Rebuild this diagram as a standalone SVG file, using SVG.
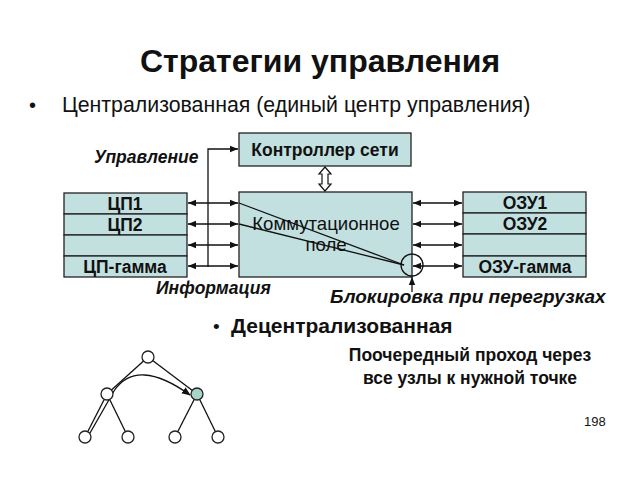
<svg xmlns="http://www.w3.org/2000/svg" width="640" height="480" viewBox="0 0 640 480">
<style>
text{font-family:"Liberation Sans",Arial,sans-serif;fill:#111}
.b{font-weight:bold}
.lb{font-weight:bold;font-size:17.5px}
.it{font-weight:bold;font-style:italic;font-size:17.5px}
.box{fill:#c3e0e0;stroke:#222;stroke-width:1.3}
.ln{stroke:#111;stroke-width:1.3;fill:none}
.nd{fill:#fff;stroke:#222;stroke-width:1.3}
</style>
<defs>
<marker id="ah" viewBox="0 0 10 10" refX="10" refY="5" markerWidth="8" markerHeight="8" orient="auto-start-reverse" markerUnits="userSpaceOnUse">
<path d="M0,1 L10,5 L0,9 z" fill="#111"/>
</marker>
<marker id="ah2" viewBox="0 0 10 10" refX="9" refY="5" markerWidth="9" markerHeight="9" orient="auto" markerUnits="userSpaceOnUse">
<path d="M0,1 L10,5 L0,9 z" fill="#111"/>
</marker>
</defs>
<rect width="640" height="480" fill="#fff"/>
<text x="320" y="72" text-anchor="middle" class="b" font-size="32">Стратегии управления</text>
<text x="29" y="112" font-size="20">•</text>
<text x="62" y="112" font-size="21.3">Централизованная (единый центр управления)</text>

<g id="controller">
<rect class="box" x="239" y="133" width="172" height="33"/>
<text x="325" y="156" text-anchor="middle" class="lb">Контроллер сети</text>
</g>
<g id="switch">
<rect class="box" x="239" y="192" width="173" height="85"/>
<text x="326" y="230" text-anchor="middle" font-size="18.6" fill="#333">Коммутационное</text>
<text x="326" y="251" text-anchor="middle" font-size="18.6" fill="#333">поле</text>
</g>
<g id="cpu">
<rect class="box" x="64" y="193" width="123" height="21"/>
<rect class="box" x="64" y="214" width="123" height="21"/>
<rect class="box" x="64" y="235" width="123" height="21"/>
<rect class="box" x="64" y="256" width="123" height="21"/>
<text x="125" y="210" text-anchor="middle" class="lb">ЦП1</text>
<text x="125" y="231" text-anchor="middle" class="lb">ЦП2</text>
<text x="125" y="273" text-anchor="middle" class="lb">ЦП-гамма</text>
</g>
<g id="ram">
<rect class="box" x="463" y="192" width="123" height="21"/>
<rect class="box" x="463" y="213" width="123" height="21"/>
<rect class="box" x="463" y="234" width="123" height="22"/>
<rect class="box" x="463" y="256" width="123" height="21"/>
<text x="525" y="209" text-anchor="middle" class="lb">ОЗУ1</text>
<text x="525" y="230" text-anchor="middle" class="lb">ОЗУ2</text>
<text x="525" y="273" text-anchor="middle" class="lb">ОЗУ-гамма</text>
</g>

<g id="connectors">
<line class="ln" x1="188" y1="203" x2="238" y2="203" marker-start="url(#ah)" marker-end="url(#ah)"/>
<line class="ln" x1="188" y1="224" x2="238" y2="224" marker-start="url(#ah)" marker-end="url(#ah)"/>
<line class="ln" x1="188" y1="245" x2="238" y2="245" marker-start="url(#ah)" marker-end="url(#ah)"/>
<line class="ln" x1="188" y1="266" x2="238" y2="266" marker-start="url(#ah)" marker-end="url(#ah)"/>
<polyline class="ln" points="208,267 208,149 238,149" marker-end="url(#ah)"/>
<line class="ln" x1="413" y1="203" x2="462" y2="203" marker-start="url(#ah)" marker-end="url(#ah)"/>
<line class="ln" x1="413" y1="224" x2="462" y2="224" marker-start="url(#ah)" marker-end="url(#ah)"/>
<line class="ln" x1="413" y1="245" x2="462" y2="245" marker-start="url(#ah)" marker-end="url(#ah)"/>
<line class="ln" x1="413" y1="266" x2="462" y2="266" marker-start="url(#ah)" marker-end="url(#ah)"/>
<path d="M325,167 L331,174 L328,174 L328,184 L331,184 L325,191 L319,184 L322,184 L322,174 L319,174 Z" fill="#fff" stroke="#111" stroke-width="1.2"/>
<line class="ln" x1="239" y1="203" x2="404" y2="265"/>
<line class="ln" x1="239" y1="224" x2="404" y2="265"/>
<circle cx="412" cy="265" r="11" fill="none" stroke="#111" stroke-width="1.3"/>
<line class="ln" x1="412" y1="292" x2="412" y2="277" marker-end="url(#ah)"/>
</g>

<text x="94" y="163" class="it">Управление</text>
<text x="156" y="294" class="it">Информация</text>
<text x="330" y="303" class="it" style="font-size:19px">Блокировка при перегрузках</text>

<text x="213" y="333" font-size="19">•</text>
<text x="231" y="333" class="b" font-size="21">Децентрализованная</text>
<text x="470" y="361" text-anchor="middle" class="b" font-size="17.5">Поочередный проход через</text>
<text x="470" y="384" text-anchor="middle" class="b" font-size="17.5">все узлы к нужной точке</text>

<g id="tree-edges">
<line class="ln" x1="148" y1="357" x2="107" y2="394"/>
<line class="ln" x1="148" y1="357" x2="197" y2="394"/>
<line class="ln" x1="107" y1="394" x2="85" y2="437"/>
<line class="ln" x1="107" y1="394" x2="128" y2="437"/>
<line class="ln" x1="197" y1="394" x2="175" y2="437"/>
<line class="ln" x1="197" y1="394" x2="218" y2="437"/>
<path class="ln" d="M90,433 L114,391 Q137,357 190,395" marker-end="url(#ah2)"/>
</g>
<g id="tree-nodes">
<circle class="nd" cx="148" cy="357" r="6"/>
<circle class="nd" cx="107" cy="394" r="6"/>
<circle cx="197" cy="394" r="6" fill="#a9d3c8" stroke="#222" stroke-width="1.3"/>
<circle class="nd" cx="85" cy="437" r="6"/>
<circle class="nd" cx="128" cy="437" r="6"/>
<circle class="nd" cx="175" cy="437" r="6"/>
<circle class="nd" cx="218" cy="437" r="6"/>
</g>
<text x="584" y="426" font-size="13" fill="#333">198</text>
</svg>
